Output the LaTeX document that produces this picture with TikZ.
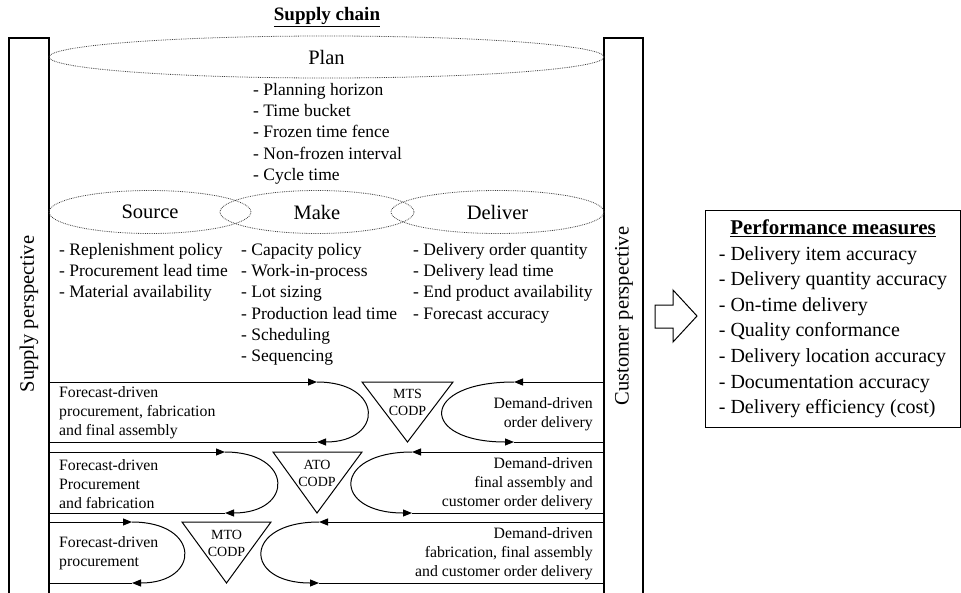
\documentclass[tikz,border=0pt]{standalone}
\usepackage{fontspec}
\setmainfont{Liberation Serif}
\usetikzlibrary{arrows.meta,shapes.geometric}

\tikzset{
  bar/.style={draw=black, line width=1.2pt},
  flow/.style={line width=1pt},
  tipflow/.style={flow, -{Triangle[length=9pt,width=7pt]}},
  oval/.style={ellipse, draw=black!75, densely dotted, line width=0.8pt, inner sep=0pt},
  codp/.style={draw=black, line width=1pt},
  codptext/.style={font=\fontsize{14}{17}\selectfont, align=center},
  rowtext/.style={font=\fontsize{15.8}{19}\selectfont, inner sep=0pt},
  listtext/.style={font=\fontsize{17.5}{21.3}\selectfont, align=left, inner sep=0pt, anchor=north west},
  sidetext/.style={font=\fontsize{20.5}{24}\selectfont, rotate=90}
}

\begin{document}
\begin{tikzpicture}[x=1pt, y=-1pt]
  \useasboundingbox (0,0) rectangle (961,592);

  \node[font=\fontsize{19}{22}\selectfont] (title) at (327,17) {\underline{\textbf{Supply chain}}};

  % side bars
  \draw[bar] (9,593) -- (9,38) -- (49,38) -- (49,593);
  \draw[bar] (604,593) -- (604,38) -- (643,38) -- (643,593);
  \node[sidetext] (supply) at (29,314) {Supply perspective};
  \node[sidetext] (customer) at (624,316) {Customer perspective};

  % plan, source, make, deliver
  \node[oval, minimum width=555pt, minimum height=42pt, font=\fontsize{20.5}{24}\selectfont] (plan) at (326.5,57) {Plan};
  \node[listtext] (planlist) at (253,83) {- Planning horizon\\- Time bucket\\- Frozen time fence\\- Non-frozen interval\\- Cycle time};

  \node[oval, minimum width=202pt, minimum height=43pt, font=\fontsize{20.5}{24}\selectfont] (source) at (150,212) {Source};
  \node[oval, minimum width=194pt, minimum height=43pt, font=\fontsize{20.5}{24}\selectfont] (make) at (317,212) {Make};
  \node[oval, minimum width=213pt, minimum height=43pt, font=\fontsize{20.5}{24}\selectfont] (deliver) at (497.5,212) {Deliver};

  \node[listtext] (sourcelist) at (59,243) {- Replenishment policy\\- Procurement lead time\\- Material availability};
  \node[listtext] (makelist) at (241,243) {- Capacity policy\\- Work-in-process\\- Lot sizing\\- Production lead time\\- Scheduling\\- Sequencing};
  \node[listtext] (deliverlist) at (413,243) {- Delivery order quantity\\- Delivery lead time\\- End product availability\\- Forecast accuracy};

  % MTS row
  \coordinate (mtsa) at (49,382);  \coordinate (mtsb) at (317,382);
  \coordinate (mtsc) at (317,442); \coordinate (mtsd) at (49,442);
  \coordinate (mtse) at (604,382); \coordinate (mtsf) at (514,382);
  \coordinate (mtsg) at (514,442); \coordinate (mtsh) at (604,442);
  \draw[tipflow] (mtsa) -- (mtsb);
  \draw[tipflow] (mtsb) .. controls (384,382) and (384,442) .. (mtsc);
  \draw[flow] (mtsc) -- (mtsd);
  \draw[tipflow] (mtse) -- (mtsf);
  \draw[tipflow] (mtsf) .. controls (419,382) and (419,442) .. (mtsg);
  \draw[flow] (mtsg) -- (mtsh);
  \draw[codp] (362,382) -- (453,382) -- (407.5,442) -- cycle;
  \node[codptext] (mts) at (407.5,402) {MTS\\CODP};
  \node[rowtext, anchor=west, align=left] (mtsleft) at (59,413) {Forecast-driven\\procurement, fabrication\\and final assembly};
  \node[rowtext, anchor=east, align=right] (mtsright) at (593,414) {Demand-driven\\order delivery};

  % ATO row
  \coordinate (atoa) at (49,452);  \coordinate (atob) at (225,452);
  \coordinate (atoc) at (225,513); \coordinate (atod) at (49,513);
  \coordinate (atoe) at (604,452); \coordinate (atof) at (412,452);
  \coordinate (atog) at (412,513); \coordinate (atoh) at (604,513);
  \draw[tipflow] (atoa) -- (atob);
  \draw[tipflow] (atob) .. controls (294,452) and (294,513) .. (atoc);
  \draw[flow] (atoc) -- (atod);
  \draw[tipflow] (atoe) -- (atof);
  \draw[tipflow] (atof) .. controls (332,452) and (332,513) .. (atog);
  \draw[flow] (atog) -- (atoh);
  \draw[codp] (273,452) -- (362,452) -- (317,513) -- cycle;
  \node[codptext] (ato) at (317,473) {ATO\\CODP};
  \node[rowtext, anchor=west, align=left] (atoleft) at (59,484) {Forecast-driven\\Procurement\\and fabrication};
  \node[rowtext, anchor=east, align=right] (atoright) at (593,484) {Demand-driven\\final assembly and\\customer order delivery};

  % MTO row
  \coordinate (mtoa) at (49,522);  \coordinate (mtob) at (132,522);
  \coordinate (mtoc) at (132,583); \coordinate (mtod) at (49,583);
  \coordinate (mtoe) at (604,522); \coordinate (mtof) at (319,522);
  \coordinate (mtog) at (319,583); \coordinate (mtoh) at (604,583);
  \draw[tipflow] (mtoa) -- (mtob);
  \draw[tipflow] (mtob) .. controls (201,522) and (201,583) .. (mtoc);
  \draw[flow] (mtoc) -- (mtod);
  \draw[tipflow] (mtoe) -- (mtof);
  \draw[tipflow] (mtof) .. controls (243,522) and (243,583) .. (mtog);
  \draw[flow] (mtog) -- (mtoh);
  \draw[codp] (182,522) -- (271,522) -- (226.5,583) -- cycle;
  \node[codptext] (mto) at (226.5,543) {MTO\\CODP};
  \node[rowtext, anchor=west, align=left] (mtoleft) at (59,553) {Forecast-driven\\procurement};
  \node[rowtext, anchor=east, align=right] (mtoright) at (593,554) {Demand-driven\\fabrication, final assembly\\and customer order delivery};

  % performance measures
  \draw[line width=1pt] (655,305) -- (673,305) -- (673,290) -- (697,316) -- (673,342) -- (673,328) -- (655,328) -- cycle;
  \node[draw, line width=1pt, minimum width=255pt, minimum height=217pt, inner sep=0pt, anchor=north west,
        font=\fontsize{20}{25.6}\selectfont] (perf) at (705,210)
    {\begin{tabular}{@{}l@{}}
      \multicolumn{1}{@{}c@{}}{\fontsize{21}{25.6}\selectfont\underline{\textbf{Performance measures}}}\\
      - Delivery item accuracy\\
      - Delivery quantity accuracy\\
      - On-time delivery\\
      - Quality conformance\\
      - Delivery location accuracy\\
      - Documentation accuracy\\
      - Delivery efficiency (cost)
    \end{tabular}};
\end{tikzpicture}
\end{document}
